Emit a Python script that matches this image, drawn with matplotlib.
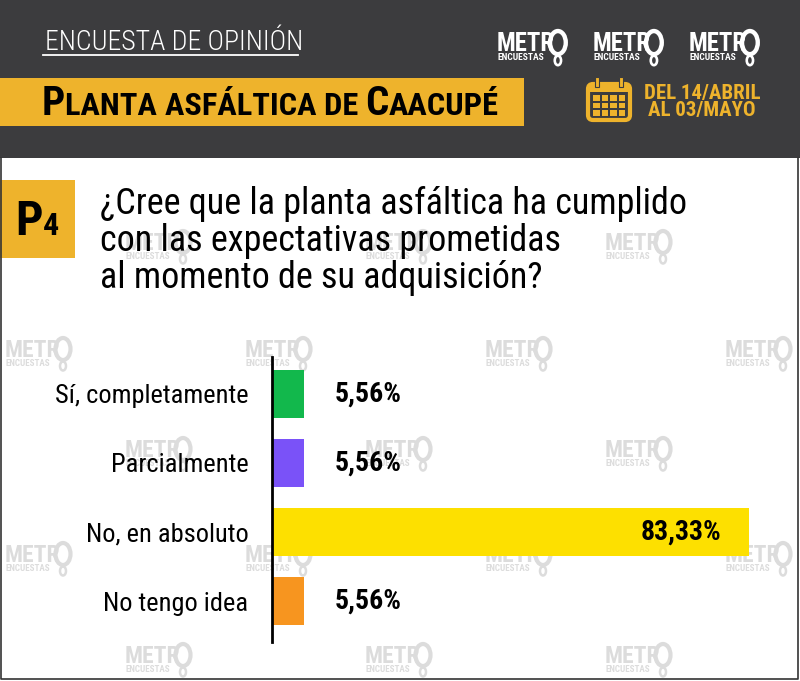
import numpy as np
import matplotlib
matplotlib.use('Agg')
import matplotlib.pyplot as plt
from matplotlib.patches import Rectangle, FancyBboxPatch, Ellipse

# datos de la encuesta
categorias = ['Sí, completamente', 'Parcialmente', 'No, en absoluto', 'No tengo idea']
valores = [5.56, 5.56, 83.33, 5.56]
colores = ['#12b84c', '#7a52f8', '#fde000', '#f7951f']
etiquetas = ['5,56%', '5,56%', '83,33%', '5,56%']

titulo = 'ENCUESTA DE OPINIÓN'
pregunta = ['¿Cree que la planta asfáltica ha cumplido',
            'con las expectativas prometidas',
            'al momento de su adquisición?']
fechas = ['DEL 14/ABRIL', 'AL 03/MAYO']

NARROW = ['Roboto Condensed', 'DejaVu Sans']
AMARILLO = '#eeb32c'

W, H = 800, 681
fig = plt.figure(figsize=(W / 100, H / 100), dpi=100)
fig.patch.set_facecolor('white')

# eje de fondo en pixeles
bg = fig.add_axes([0, 0, 1, 1])
bg.set_xlim(0, W)
bg.set_ylim(H, 0)
bg.axis('off')


def marca(x, y, color, s=1.0, z=0.5):
    # logo "METRO ENCUESTAS" (marca de agua)
    bg.text(x, y, 'METR', family=NARROW, fontweight='bold', fontsize=17 * s,
            color=color, ha='left', va='baseline', zorder=z)
    bg.text(x + 1, y + 9 * s, 'ENCUESTAS', family=NARROW, fontweight='bold',
            fontsize=6.5 * s, color=color, ha='left', va='baseline', zorder=z)
    bg.add_patch(Ellipse((x + 58 * s, y - 8 * s), 15 * s, 22 * s, fill=False,
                         lw=3 * s, edgecolor=color, zorder=z))
    bg.add_patch(Ellipse((x + 58 * s, y + 9 * s), 6 * s, 9 * s, fill=False,
                         lw=1.8 * s, edgecolor=color, zorder=z))


# marcas de agua en la zona blanca
wm = '#dcdcdc'
for xx in [125, 365, 605]:
    marca(xx, 250, wm)
for xx in [5, 245, 485, 725]:
    marca(xx, 357, wm)
    marca(xx, 562, wm)
for xx in [125, 365, 605]:
    marca(xx, 457, wm)
    marca(xx, 663, wm)

# cabecera oscura
bg.add_patch(Rectangle((0, 0), W, 158, facecolor='#3c3c3e', edgecolor='none', zorder=1))
bg.add_patch(Rectangle((0, 78), 524, 48, facecolor=AMARILLO, edgecolor='none', zorder=2))

bg.text(45, 50, titulo, family=NARROW, fontweight='light', fontsize=20, color='white',
        ha='left', va='baseline', zorder=3)
bg.plot([43, 298], [55, 55], color='white', lw=1.3, zorder=3)

# "PLANTA ASFÁLTICA DE CAACUPÉ" en versalitas
piezas = [('P', 29.5), ('LANTA ', 23.3), ('ASFÁLTICA ', 23.3), ('DE ', 23.3),
          ('C', 29.5), ('AACUPÉ', 23.3)]
fig.canvas.draw()
rend = fig.canvas.get_renderer()
px = 42
for txt, fs in piezas:
    t = bg.text(px, 115, txt, family=NARROW, fontweight='bold', fontsize=fs,
                color='black', ha='left', va='baseline', zorder=3)
    px += t.get_window_extent(rend).width

# logos de la cabecera
for xx in [497, 593, 689]:
    marca(xx, 51, 'white', s=1.05, z=3)

# calendario
bg.add_patch(FancyBboxPatch((588, 84), 42, 36, boxstyle='round,pad=0,rounding_size=5',
                            facecolor='none', edgecolor=AMARILLO, lw=3, zorder=3))
bg.add_patch(Rectangle((588, 84), 42, 8, facecolor=AMARILLO, edgecolor='none', zorder=3))
for cx in [597, 621]:
    bg.add_patch(Rectangle((cx - 2, 77), 4, 10, facecolor=AMARILLO, edgecolor='#3c3c3e',
                           lw=0.8, zorder=4))
for i in range(4):
    for j in range(3):
        bg.add_patch(Rectangle((593 + i * 8.5, 95 + j * 7.5), 6.5, 5.5,
                               facecolor=AMARILLO, edgecolor='none', zorder=3))

bg.text(702, 99, fechas[0], family=NARROW, fontweight='bold', fontsize=15,
        color=AMARILLO, ha='center', va='baseline', zorder=3)
bg.text(702, 116, fechas[1], family=NARROW, fontweight='bold', fontsize=15,
        color=AMARILLO, ha='center', va='baseline', zorder=3)

# bloque de la pregunta
bg.add_patch(Rectangle((0, 180), 75, 78, facecolor=AMARILLO, edgecolor='none', zorder=2))
bg.text(29, 235, 'P', family=NARROW, fontweight='bold', fontsize=35,
        color='black', ha='center', va='baseline', zorder=3)
bg.text(51, 235, '4', family=NARROW, fontweight='bold', fontsize=23,
        color='black', ha='center', va='baseline', zorder=3)
for k, linea in enumerate(pregunta):
    bg.text(100, 214 + k * 37, linea, family=NARROW, fontsize=26,
            color='black', ha='left', va='baseline', zorder=3)

# borde exterior
bg.plot([1, 1, W - 2, W - 2], [158, H - 2, H - 2, 158], color='#333333', lw=1.2, zorder=3)

# grafico de barras
px_unidad = 5.72
ax_l, ax_r, ax_t, ax_b = 272, 790, 357, 642
ax = fig.add_axes([ax_l / W, 1 - ax_b / H, (ax_r - ax_l) / W, (ax_b - ax_t) / H])
ax.patch.set_alpha(0)
y = np.arange(len(categorias))
ax.barh(y, valores, height=0.70, color=colores, zorder=2)
ax.set_xlim(0, (ax_r - ax_l) / px_unidad)
ax.set_ylim(3 + (ax_b - 601) / 69, -(394 - ax_t) / 69)
for s in ['top', 'right', 'bottom']:
    ax.spines[s].set_visible(False)
ax.spines['left'].set_linewidth(2)
ax.spines['left'].set_color('black')
ax.set_xticks([])
ax.set_yticks(y)
ax.set_yticklabels(categorias, family=NARROW, fontsize=19)
ax.tick_params(axis='y', length=0, pad=17)

for yi, v, lab in zip(y, valores, etiquetas):
    if v > 50:
        ax.annotate(lab, (v, yi), xytext=(-19.5, 0), textcoords='offset points',
                    ha='right', va='center', family=NARROW, fontweight='bold',
                    fontsize=20, color='black')
    else:
        ax.annotate(lab, (v, yi), xytext=(22.5, 0), textcoords='offset points',
                    ha='left', va='center', family=NARROW, fontweight='bold',
                    fontsize=20, color='black')

fig.savefig('out.png', dpi=100, facecolor='white')
